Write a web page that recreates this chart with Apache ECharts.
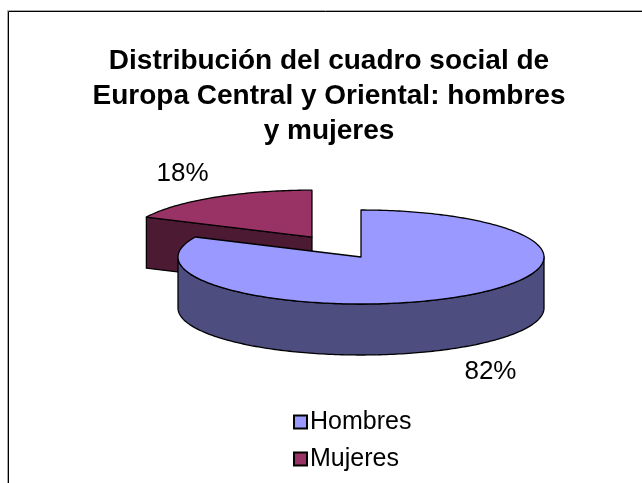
<!DOCTYPE html>
<html>
<head>
<meta charset="utf-8">
<script src="https://cdn.jsdelivr.net/npm/echarts@6/dist/echarts.min.js"></script>
<style>
html,body{margin:0;padding:0;background:#fff;}
#chart{width:642px;height:483px;}
</style>
</head>
<body>
<div id="chart"></div>
<script>
// ---- data ----
const categories = ['Hombres', 'Mujeres'];
const values = [82, 18];
const labelTexts = ['82%', '18%'];
const titleLines = ['Distribución del cuadro social de', 'Europa Central y Oriental: hombres', 'y mujeres'];

// ---- styles ----
const topColors = ['#9999FF', '#993366'];
const sideColors = ['#4D4D80', '#4D1A33'];
const explodeBy = [0, 0.5];
const DEPTH = 51;
const FONT = '"Liberation Sans", Arial, sans-serif';

const total = values.reduce((a, b) => a + b, 0);
const rad = d => d * Math.PI / 180;

function renderSlice(i, api) {
  let start = 270;
  for (let j = 0; j < i; j++) start += values[j] / total * 360;
  const sweep = api.value(2) / total * 360;
  const end = start + sweep;
  const mid = start + sweep / 2;
  const c0 = api.coord([api.value(0), api.value(1)]);
  const sz = api.size([1, 1]);
  const rx = sz[0], ry = sz[1];
  const ex = explodeBy[i];
  const cx = c0[0] + rx * ex * Math.cos(rad(mid));
  const cy = c0[1] + ry * ex * Math.sin(rad(mid));
  const pt = (t, d) => [cx + rx * Math.cos(rad(t)), cy + ry * Math.sin(rad(t)) + (d || 0)];
  const arc = (a, b, d) => {
    const pts = [];
    const n = Math.max(2, Math.ceil(Math.abs(b - a)));
    for (let k = 0; k <= n; k++) pts.push(pt(a + (b - a) * k / n, d));
    return pts;
  };
  const stroke = { stroke: '#000', lineWidth: 1.3, lineJoin: 'round' };
  const children = [];
  const face = (t) => {
    children.push({
      type: 'polygon',
      shape: { points: [[cx, cy], pt(t), pt(t, DEPTH), [cx, cy + DEPTH]] },
      style: Object.assign({ fill: sideColors[i] }, stroke)
    });
  };
  if (Math.cos(rad(start)) < -1e-6) face(start);
  if (Math.cos(rad(end)) > 1e-6) face(end);
  for (let n = -1; n <= 2; n++) {
    const a = Math.max(start, 360 * n), b = Math.min(end, 360 * n + 180);
    if (b > a) {
      const pts = arc(a, b, 0).concat(arc(b, a, DEPTH));
      children.push({ type: 'polygon', shape: { points: pts }, style: Object.assign({ fill: sideColors[i] }, stroke) });
    }
  }
  children.push({
    type: 'polygon',
    shape: { points: [[cx, cy]].concat(arc(start, end, 0)) },
    style: Object.assign({ fill: topColors[i] }, stroke)
  });
  const sm = Math.sin(rad(mid)), cm = Math.cos(rad(mid));
  children.push({
    type: 'text',
    style: {
      text: labelTexts[i],
      x: cx + rx * 1.32 * cm,
      y: cy + ry * 1.6 * sm + (sm > 0 ? DEPTH : 0),
      align: 'center', verticalAlign: 'middle',
      font: '26px ' + FONT, fill: '#000'
    }
  });
  return { type: 'group', children: children };
}

const series = categories.map((name, i) => ({
  type: 'custom',
  name: name,
  coordinateSystem: 'cartesian2d',
  z: 10 - i,
  itemStyle: { color: topColors[i] },
  data: [[0, 0, values[i]]],
  renderItem: (params, api) => renderSlice(i, api)
}));
// draw the rear (exploded) slice first
series.sort((a, b) => a.z - b.z);

const chart = echarts.init(document.getElementById('chart'), null, { renderer: 'canvas' });
chart.setOption({
  backgroundColor: '#fff',
  animation: false,
  title: {
    text: titleLines.join('\n'),
    left: 324, top: 39, textAlign: 'center',
    textStyle: { fontFamily: FONT, fontSize: 28, fontWeight: 'bold', color: '#000', lineHeight: 35 }
  },
  grid: { left: 86.5, width: 549, top: 163, height: 188 },
  xAxis: { type: 'value', min: -1.5, max: 1.5, show: false },
  yAxis: { type: 'value', min: -2, max: 2, show: false },
  legend: {
    data: categories,
    orient: 'vertical',
    left: 288, top: 404,
    icon: 'rect', itemWidth: 13, itemHeight: 13, itemGap: 11,
    itemStyle: { borderColor: '#000', borderWidth: 2 },
    textStyle: { fontFamily: FONT, fontSize: 25, color: '#000', lineHeight: 26, padding: [0, 0, 0, -2] }
  },
  graphic: [
    { type: 'rect', shape: { x: 7.5, y: 10.5, width: 700, height: 600 }, style: { fill: null, stroke: '#aaa', lineWidth: 1 }, silent: true },
    { type: 'rect', shape: { x: 8.5, y: 11.5, width: 700, height: 600 }, style: { fill: null, stroke: '#000', lineWidth: 1 }, silent: true }
  ],
  series: series
});
</script>
</body>
</html>
